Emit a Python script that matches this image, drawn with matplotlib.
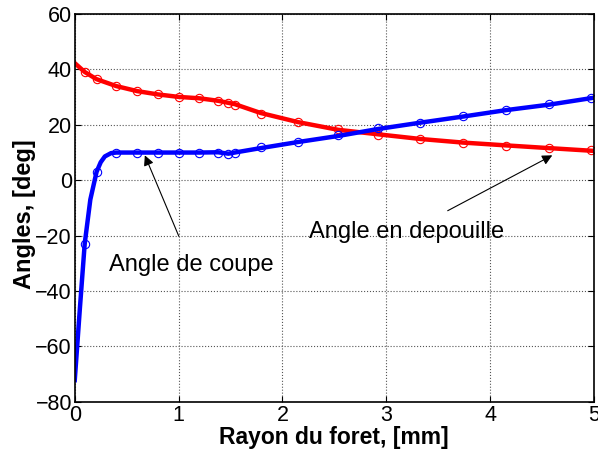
import numpy as np
import matplotlib.pyplot as plt

plt.rcParams['font.family'] = ['Liberation Sans', 'DejaVu Sans']

# --- data ---
# sample positions (markers)
r_pts = [0.096, 0.21, 0.40, 0.60, 0.80, 1.00, 1.20, 1.38, 1.48, 1.54,
         1.79, 2.15, 2.54, 2.92, 3.33, 3.74, 4.15, 4.57, 4.97]
depouille_pts = [39.1, 36.5, 34.0, 32.2, 31.0, 30.1, 29.6, 28.6, 27.9, 27.2,
                 24.1, 21.0, 18.4, 16.5, 14.8, 13.5, 12.5, 11.8, 10.8]
coupe_pts = [-22.9, 3.0, 10.0, 10.0, 10.0, 10.0, 10.0, 10.0, 9.3, 10.0,
             11.9, 13.8, 16.2, 18.7, 20.8, 23.2, 25.5, 27.5, 29.6]

# fitted curves (thick lines)
r_dep_line = [0.0, 0.096, 0.21, 0.40, 0.60, 0.80, 1.00, 1.20, 1.38, 1.54,
              1.79, 2.15, 2.54, 2.92, 3.33, 3.74, 4.15, 4.57, 5.0]
dep_line = [42.3, 39.1, 36.5, 34.0, 32.2, 31.0, 30.1, 29.6, 28.7, 27.5,
            24.3, 21.0, 18.2, 16.6, 14.9, 13.6, 12.6, 11.6, 10.6]
r_cou_line = [0.0, 0.05, 0.096, 0.15, 0.21, 0.25, 0.29, 0.35, 0.40, 0.80,
              1.20, 1.38, 1.48, 1.54, 1.79, 2.15, 2.54, 2.92, 3.33, 3.74,
              4.15, 4.57, 5.0]
cou_line = [-72.2, -46.0, -22.9, -7.0, 3.0, 6.5, 8.6, 9.8, 10.0, 10.0,
            10.0, 10.1, 9.6, 10.0, 11.6, 13.8, 16.0, 18.5, 20.8, 23.0,
            25.3, 27.3, 29.8]

fig = plt.figure(figsize=(5.98, 4.55), dpi=100)
ax = fig.add_axes([0.125, 0.117, 0.868, 0.852])

ax.plot(r_dep_line, dep_line, '-', color='red', lw=3.2, solid_joinstyle='round')
ax.plot(r_pts, depouille_pts, 'o', mfc='none', mec='red', ms=6, mew=0.8)
ax.plot(r_cou_line, cou_line, '-', color='blue', lw=3.2, solid_joinstyle='round')
ax.plot(r_pts, coupe_pts, 'o', mfc='none', mec='blue', ms=6, mew=0.8)

ax.annotate('Angle de coupe', xy=(0.675, 9.0), xytext=(1.12, -30.7),
            ha='center', va='center', fontsize=17,
            arrowprops=dict(arrowstyle='-|>', color='black', lw=0.8,
                            mutation_scale=15, shrinkA=12, shrinkB=0))
ax.annotate('Angle en depouille', xy=(4.60, 9.0), xytext=(3.2, -18.8),
            ha='center', va='center', fontsize=17,
            arrowprops=dict(arrowstyle='-|>', color='black', lw=0.8,
                            mutation_scale=15, shrinkA=12, shrinkB=0))

ax.set_xlim(0, 5)
ax.set_ylim(-80, 60)
ax.set_xticks([0, 1, 2, 3, 4, 5])
ax.set_yticks(np.arange(-80, 61, 20))
ax.tick_params(direction='in', top=True, right=True, labelsize=15.5,
               length=4, pad=2)
ax.grid(True, color='#555555', linestyle=':', linewidth=0.8)
for s in ax.spines.values():
    s.set_linewidth(1.2)

ax.set_xlabel('Rayon du foret, [mm]', fontsize=16.5, fontweight='bold', labelpad=0)
ax.set_ylabel('Angles, [deg]', fontsize=17, fontweight='bold')
ax.yaxis.set_label_coords(-0.075, 0.485)

fig.savefig('out.png', dpi=100)
